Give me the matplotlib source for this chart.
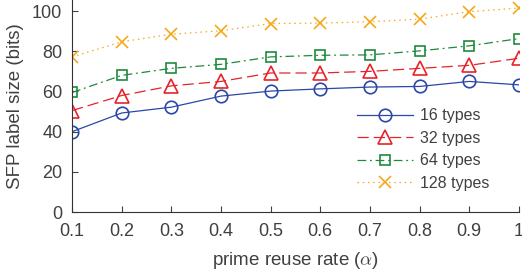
import matplotlib
matplotlib.use('Agg')
import matplotlib.pyplot as plt

plt.rcParams['font.family'] = ['Liberation Sans', 'DejaVu Sans']
plt.rcParams['mathtext.fontset'] = 'cm'

# 데이터
alpha = [0.1, 0.2, 0.3, 0.4, 0.5, 0.6, 0.7, 0.8, 0.9, 1.0]
types16 = [40.0, 49.3, 52.2, 57.7, 60.2, 61.3, 62.2, 62.5, 65.0, 63.3]
types32 = [50.5, 58.0, 62.8, 65.0, 69.2, 69.2, 70.0, 71.5, 73.0, 76.5]
types64 = [59.5, 68.0, 71.5, 73.5, 77.2, 78.0, 78.2, 80.2, 82.7, 86.3]
types128 = [77.2, 84.7, 88.5, 90.2, 93.8, 94.0, 94.7, 96.0, 99.7, 101.5]
series_labels = ['16 types', '32 types', '64 types', '128 types']
xticks = [0.1, 0.2, 0.3, 0.4, 0.5, 0.6, 0.7, 0.8, 0.9, 1]
xtick_labels = ['0.1', '0.2', '0.3', '0.4', '0.5', '0.6', '0.7', '0.8', '0.9', '1']
yticks = [0, 20, 40, 60, 80, 100]

text_color = '#404040'

fig = plt.figure(figsize=(5.22, 2.78), dpi=100)
ax = fig.add_axes([0.138, 0.237, 0.856, 0.763])

styles = [
    dict(color='#2B47A8', linestyle='-', marker='o', markersize=9),
    dict(color='#E8222A', linestyle=(0, (9, 4)), marker='^', markersize=10.5),
    dict(color='#1E8A3C', linestyle=(0, (7, 3, 1.5, 3)), marker='s', markersize=7.5),
    dict(color='#F5A81C', linestyle=(0, (1.2, 3)), marker='x', markersize=8),
]
for ys, lab, st in zip([types16, types32, types64, types128], series_labels, styles):
    ax.plot(alpha, ys, label=lab, linewidth=0.9, markerfacecolor='none',
            markeredgewidth=1.2, **st)

ax.set_xlim(0.1, 1.0)
ax.set_ylim(0, 105.5)
ax.set_xticks(xticks)
ax.set_xticklabels(xtick_labels)
ax.set_yticks(yticks)
ax.tick_params(direction='in', length=4, width=0.8, colors=text_color,
               labelsize=13)
ax.tick_params(axis='x', pad=8)
ax.tick_params(axis='y', pad=7)
for s in ['top', 'right']:
    ax.spines[s].set_visible(False)
for s in ['left', 'bottom']:
    ax.spines[s].set_color('#333333')
    ax.spines[s].set_linewidth(0.8)

ax.set_xlabel(r'prime reuse rate ($\alpha$)', fontsize=13.5, color=text_color, labelpad=7)
ax.set_ylabel('SFP label size (bits)', fontsize=13.5, color=text_color, labelpad=6)

leg = ax.legend(loc='upper left', bbox_to_anchor=(0.6376, 0.49), frameon=False,
                fontsize=11.5, handlelength=3.5, handletextpad=0.45,
                labelspacing=0.47, borderpad=0, borderaxespad=0,
                labelcolor=text_color)

fig.savefig('out.png', dpi=100)
